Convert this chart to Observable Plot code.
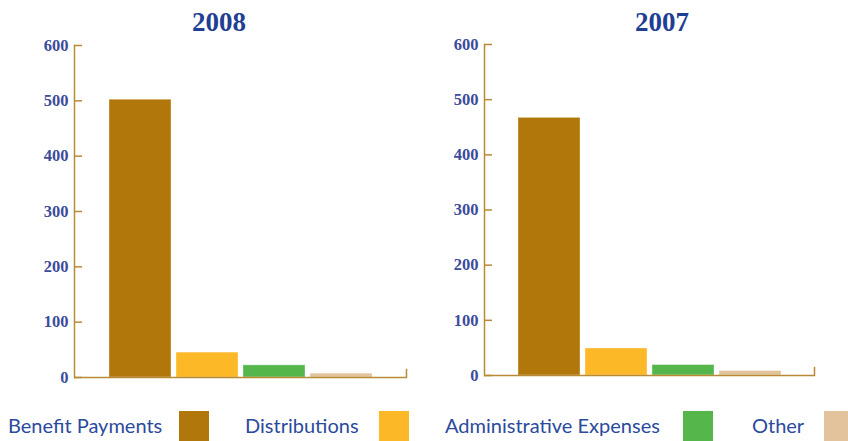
<!DOCTYPE html>
<html>
<head>
<meta charset="utf-8">
<script src="https://cdn.jsdelivr.net/npm/d3@7"></script>
<script src="https://cdn.jsdelivr.net/npm/@observablehq/plot@0.6"></script>
<style>
  html, body { margin: 0; padding: 0; background: #fff; }
  #root { position: relative; width: 848px; height: 441px; overflow: hidden; }
  .panel { position: absolute; top: 0; }
  .title { position: absolute; font-family: "Liberation Serif", serif; font-weight: bold; font-size: 27px; color: #1f3f94; transform: translateX(-50%); line-height: 1; }
  .lg-text { position: absolute; font-family: Lato, "Open Sans", sans-serif; font-size: 20px; color: #2b4a9c; line-height: 1; }
  .lg-sw { position: absolute; width: 30px; height: 30px; }
</style>
</head>
<body>
<div id="root"></div>
<script>
const categories = ["Benefit Payments", "Distributions", "Administrative Expenses", "Other"];
const colors = ["#b1770a", "#fdb827", "#55b74b", "#e3c39b"];
const years = ["2008", "2007"];
const values2008 = [502, 45, 22, 7];
const values2007 = [467, 49, 19, 8];
const yTicks = [0, 100, 200, 300, 400, 500, 600];

const axisColor = "#b98a35";
const tickColor = "#3b4c9b";

const root = document.getElementById("root");

function panel(values, opts) {
  const data = categories.map((c, i) => ({category: c, value: values[i]}));
  const frameW = opts.width - opts.marginLeft - opts.marginRight;
  const frameH = opts.height - opts.marginTop - opts.marginBottom;
  return Plot.plot({
    width: opts.width,
    height: opts.height,
    marginLeft: opts.marginLeft,
    marginRight: opts.marginRight,
    marginTop: opts.marginTop,
    marginBottom: opts.marginBottom,
    style: {background: "transparent", overflow: "visible"},
    x: {domain: categories, paddingInner: 0.08, paddingOuter: 0.5, axis: null},
    y: {domain: [0, 600], axis: null},
    color: {domain: categories, range: colors},
    marks: [
      Plot.barY(data, {x: "category", y: "value", fill: "category", stroke: "#ffffff", strokeOpacity: 0.35, strokeWidth: 1}),
      Plot.frame({anchor: "left", stroke: axisColor, strokeWidth: 1.5}),
      Plot.ruleY([0], {stroke: axisColor, strokeWidth: 1.5}),
      Plot.frame({anchor: "right", stroke: axisColor, strokeWidth: 1.5, insetTop: frameH - 8}),
      Plot.tickY(yTicks, {y: d => d, stroke: axisColor, strokeWidth: 1.5, insetRight: frameW - 8}),
      Plot.axisY({ticks: yTicks, tickSize: 0, tickPadding: 6, tickFormat: d => String(d), label: null,
        fontFamily: "Liberation Serif", fontWeight: "bold", fontSize: 16.5, fill: tickColor})
    ]
  });
}

const p1 = panel(values2008, {width: 424, height: 400, marginLeft: 74, marginRight: 18, marginTop: 45, marginBottom: 23});
const d1 = document.createElement("div"); d1.className = "panel"; d1.style.left = "0px"; d1.appendChild(p1); root.appendChild(d1);

const p2 = panel(values2007, {width: 424, height: 400, marginLeft: 60, marginRight: 34, marginTop: 44, marginBottom: 25});
const d2 = document.createElement("div"); d2.className = "panel"; d2.style.left = "424px"; d2.appendChild(p2); root.appendChild(d2);

const titlePos = [[219, 9], [662, 9]];
years.forEach((y, i) => {
  const t = document.createElement("div");
  t.className = "title"; t.textContent = y;
  t.style.left = titlePos[i][0] + "px"; t.style.top = titlePos[i][1] + "px";
  root.appendChild(t);
});

const textX = [8, 245, 445, 752];
const swX = [179, 379, 683, 824];
categories.forEach((c, i) => {
  const t = document.createElement("div");
  t.className = "lg-text"; t.textContent = c;
  t.style.left = textX[i] + "px"; t.style.top = "415px";
  root.appendChild(t);
  const s = document.createElement("div");
  s.className = "lg-sw"; s.style.background = colors[i];
  s.style.left = swX[i] + "px"; s.style.top = "411px";
  root.appendChild(s);
});
</script>
</body>
</html>
